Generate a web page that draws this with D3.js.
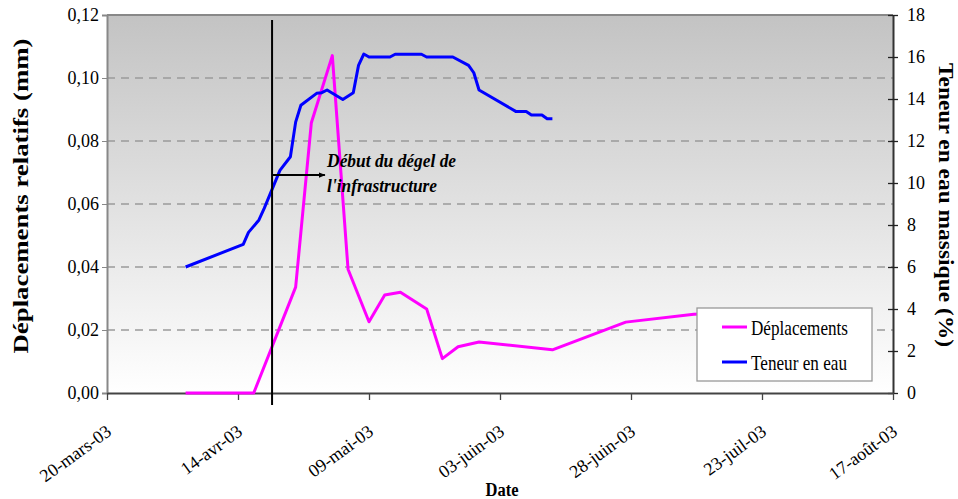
<!DOCTYPE html>
<html><head><meta charset="utf-8">
<script src="https://cdn.jsdelivr.net/npm/d3@7"></script>
<style>
html,body{margin:0;padding:0;background:#fff;}
svg{display:block;font-family:"Liberation Serif","Times New Roman",serif;}
</style></head>
<body>
<svg id="chart" width="958" height="499"></svg>
<script>
// ---- data ----
const dispDates = ["2003-04-04","2003-04-17","2003-04-25","2003-04-28","2003-05-02","2003-05-05","2003-05-09","2003-05-12","2003-05-15","2003-05-20","2003-05-23","2003-05-26","2003-05-30","2003-06-13","2003-06-27","2003-07-10","2003-07-20"];
const dispValues = [0,0,0.0336,0.0858,0.1071,0.0393,0.0226,0.0311,0.032,0.0267,0.0109,0.0147,0.0162,0.0137,0.0225,0.025,0.0255];
const waterDates = ["2003-04-04","2003-04-15","2003-04-16","2003-04-18","2003-04-19","2003-04-22","2003-04-24","2003-04-25","2003-04-26","2003-04-29","2003-04-30","2003-05-01","2003-05-04","2003-05-06","2003-05-07","2003-05-08","2003-05-09","2003-05-13","2003-05-14","2003-05-19","2003-05-20","2003-05-25","2003-05-28","2003-05-29","2003-05-30","2003-06-06","2003-06-08","2003-06-09","2003-06-11","2003-06-12","2003-06-13"];
const waterValues = [6.0,7.08,7.65,8.24,8.79,10.6,11.25,12.9,13.7,14.27,14.3,14.43,13.98,14.3,15.6,16.14,16.0,16.0,16.13,16.13,16.0,16.0,15.6,15.25,14.43,13.41,13.41,13.24,13.24,13.06,13.06];
const xTickDates = ["2003-03-20","2003-04-14","2003-05-09","2003-06-03","2003-06-28","2003-07-23","2003-08-17"];
const xTickLabels = ["20-mars-03","14-avr-03","09-mai-03","03-juin-03","28-juin-03","23-juil-03","17-août-03"];
const leftTicks = [0,0.02,0.04,0.06,0.08,0.10,0.12];
const rightTicks = [0,2,4,6,8,10,12,14,16,18];
const thawDate = "2003-04-20T12:00";
const seriesNames = ["Déplacements","Teneur en eau"];
const seriesColors = ["#ff00ff","#0000ff"];

// ---- setup ----
const parse = s => new Date(s.length>10 ? s : s+"T00:00");
const L=107, R=893, T=15, B=393;
const svg = d3.select("#chart");
const x = d3.scaleTime().domain([parse(xTickDates[0]), parse(xTickDates[xTickDates.length-1])]).range([L,R]);
const yL = d3.scaleLinear().domain([0,0.12]).range([B,T]);
const yR = d3.scaleLinear().domain([0,18]).range([B,T]);
const fr = d3.formatLocale({decimal:",",thousands:" ",grouping:[3],currency:["","€"]});
const fmt2 = fr.format(".2f");

// background gradient
const defs = svg.append("defs");
const g = defs.append("linearGradient").attr("id","bg").attr("x1",0).attr("y1",0).attr("x2",0).attr("y2",1);
g.append("stop").attr("offset","0%").attr("stop-color","#c3c3c3");
g.append("stop").attr("offset","100%").attr("stop-color","#ffffff");
const mk = defs.append("marker").attr("id","arr").attr("viewBox","0 0 10 10").attr("refX",9).attr("refY",5)
  .attr("markerWidth",7).attr("markerHeight",7).attr("orient","auto").attr("markerUnits","userSpaceOnUse");
mk.append("path").attr("d","M0,1 L10,5 L0,9 Z").attr("fill","#000");

svg.append("rect").attr("x",L).attr("y",T).attr("width",R-L).attr("height",B-T).attr("fill","url(#bg)");

// gridlines
svg.append("g").selectAll("line").data(leftTicks.filter(d=>d>0 && d<0.12)).join("line")
  .attr("x1",L).attr("x2",R).attr("y1",d=>yL(d)).attr("y2",d=>yL(d))
  .attr("stroke","#9a9a9a").attr("stroke-width",1.3).attr("stroke-dasharray","8,6");

// top border
svg.append("line").attr("x1",L).attr("x2",R).attr("y1",T).attr("y2",T).attr("stroke","#888").attr("stroke-width",2);

// left axis
const axL = svg.append("g").attr("transform",`translate(${L},0)`)
  .call(d3.axisLeft(yL).tickValues(leftTicks).tickFormat(fmt2).tickSize(5).tickPadding(3));
axL.select(".domain").attr("stroke","#888").attr("stroke-width",2);
axL.selectAll(".tick line").attr("stroke","#888");
axL.selectAll(".tick text").attr("font-family","Liberation Serif").attr("font-size",18).attr("fill","#000");

// right axis
const axR = svg.append("g").attr("transform",`translate(${R},0)`)
  .call(d3.axisRight(yR).tickValues(rightTicks).tickFormat(d3.format("d")).tickSizeInner(5).tickSizeOuter(0).tickPadding(9));
axR.select(".domain").attr("stroke","#333").attr("stroke-width",2);
axR.selectAll(".tick line").attr("stroke","#222").attr("x1",-5).attr("stroke-width",1.3);
axR.selectAll(".tick text").attr("font-family","Liberation Serif").attr("font-size",18).attr("fill","#000");

// bottom axis
const axB = svg.append("g").attr("transform",`translate(0,${B})`)
  .call(d3.axisBottom(x).tickValues(xTickDates.map(parse)).tickFormat((d,i)=>xTickLabels[i]).tickSizeInner(7).tickSizeOuter(0));
axB.select(".domain").attr("stroke","#444").attr("stroke-width",2);
axB.selectAll(".tick line").attr("stroke","#444").attr("stroke-width",1.3);
axB.selectAll(".tick text").attr("font-family","Liberation Serif").attr("font-size",18).attr("fill","#000")
  .attr("text-anchor","end").attr("dy",null).attr("y",null)
  .attr("transform","translate(5,41) rotate(-36)");

// lines
const dispData = dispDates.map((d,i)=>({d:parse(d),v:dispValues[i]}));
const waterData = waterDates.map((d,i)=>({d:parse(d),v:waterValues[i]}));
svg.append("path").datum(dispData).attr("fill","none").attr("stroke",seriesColors[0]).attr("stroke-width",3).attr("stroke-linejoin","round")
  .attr("d",d3.line().x(p=>x(p.d)).y(p=>yL(p.v)));
svg.append("path").datum(waterData).attr("fill","none").attr("stroke",seriesColors[1]).attr("stroke-width",3).attr("stroke-linejoin","round")
  .attr("d",d3.line().x(p=>x(p.d)).y(p=>yR(p.v)));

// thaw line + annotation
const tx = x(parse(thawDate));
svg.append("line").attr("x1",tx).attr("x2",tx).attr("y1",20).attr("y2",405).attr("stroke","#000").attr("stroke-width",2);
svg.append("line").attr("x1",tx).attr("x2",x(parse("2003-04-30T14:00"))).attr("y1",yL(0.0692)).attr("y2",yL(0.0692))
  .attr("stroke","#000").attr("stroke-width",2).attr("marker-end","url(#arr)");
const ann = svg.append("text").attr("font-family","Liberation Serif").attr("font-weight","bold").attr("font-style","italic")
  .attr("font-size",19).attr("fill","#000");
ann.append("tspan").attr("x",x(parse("2003-05-01"))).attr("y",yL(0.0717)).attr("textLength",129).attr("lengthAdjust","spacingAndGlyphs").text("Début du dégel de");
ann.append("tspan").attr("x",x(parse("2003-05-01"))).attr("y",yL(0.0638)).attr("textLength",110).attr("lengthAdjust","spacingAndGlyphs").text("l'infrastructure");

// axis titles
svg.append("text").attr("transform","translate(28,196) rotate(-90)").attr("text-anchor","middle")
  .attr("font-weight","bold").attr("font-size",21).attr("textLength",315).attr("lengthAdjust","spacingAndGlyphs").text("Déplacements relatifs (mm)");
svg.append("text").attr("transform","translate(939,205) rotate(90)").attr("text-anchor","middle")
  .attr("font-weight","bold").attr("font-size",21).attr("textLength",284).attr("lengthAdjust","spacingAndGlyphs").text("Teneur en eau massique (%)");
svg.append("text").attr("x",502).attr("y",496).attr("text-anchor","middle")
  .attr("font-weight","bold").attr("font-size",18).attr("textLength",33).attr("lengthAdjust","spacingAndGlyphs").text("Date");

// legend
const lg = svg.append("g").attr("transform","translate(697,308)");
lg.append("rect").attr("width",175).attr("height",73).attr("fill","#fff").attr("stroke","#999").attr("stroke-width",1.3);
seriesNames.forEach((n,i)=>{
  const yy = 19 + i*35;
  lg.append("line").attr("x1",25).attr("x2",50).attr("y1",yy).attr("y2",yy).attr("stroke",seriesColors[i]).attr("stroke-width",3);
  lg.append("text").attr("x",54).attr("y",yy+8).attr("font-size",22).attr("textLength", i===0?97:96).attr("lengthAdjust","spacingAndGlyphs").text(n);
});
</script>
</body></html>
